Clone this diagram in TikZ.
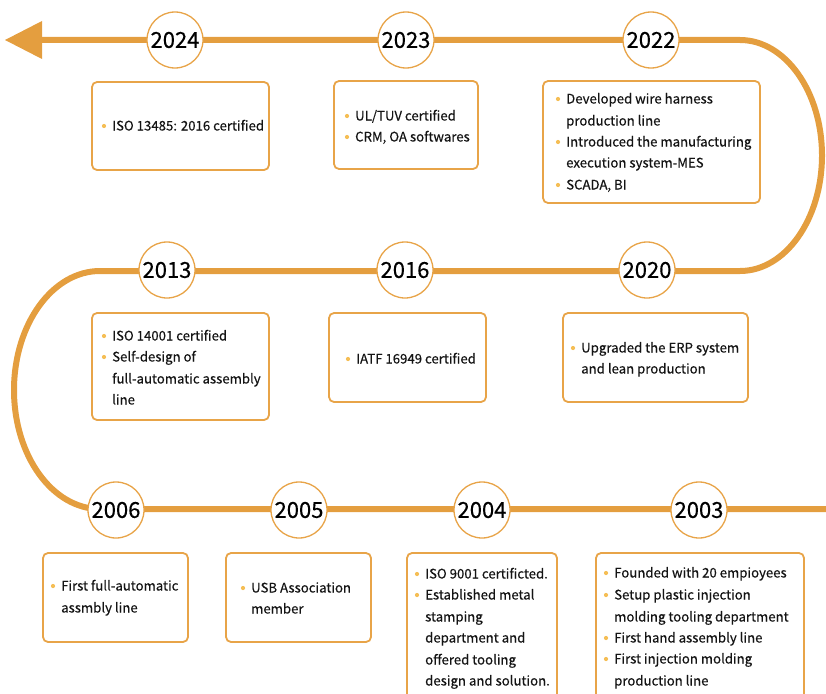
\documentclass[tikz,border=0pt]{standalone}
\usepackage{fontspec}
\setmainfont{Noto Sans CJK SC}
\newfontfamily\txtfont[FakeBold=0.35]{Noto Sans CJK SC}
\definecolor{lineorange}{RGB}{228,158,63}
\definecolor{boxorange}{RGB}{232,164,72}
\definecolor{bulc}{RGB}{245,190,85}
\definecolor{txtc}{RGB}{20,20,20}
\tikzset{
  tl/.style={draw=lineorange, line width=6pt},
  yr/.style={circle, draw=boxorange, line width=1.3pt, fill=white, minimum size=56pt, inner sep=0pt, font=\txtfont\fontsize{22}{22}\selectfont, text=black},
  evbox/.style={draw=boxorange, line width=1.8pt, rounded corners=5pt, fill=white},
  txt/.style={anchor=west, inner sep=0pt, text height=9pt, text depth=0pt, font=\txtfont\fontsize{13.2}{14}\selectfont, text=txtc},
}
\newcommand\itm[3]{\fill[bulc] (#1-8,#2) circle (2.1pt); \node[txt] at (#1,#2) {#3};}
\newcommand\cnt[3]{\node[txt] at (#1,#2) {#3};}
\begin{document}
\begin{tikzpicture}[x=1pt,y=-1pt]
\useasboundingbox (0,0) rectangle (826,693);
\clip (0,0) rectangle (826,693);
% timeline
\coordinate (tip) at (5,40);
\coordinate (ab) at (40,40);
\coordinate (r1) at (740,40);
\coordinate (l1) at (100,271);
\coordinate (rend) at (830,509);
\draw[tl] (ab) -- (r1) arc[start angle=90, end angle=-90, x radius=82pt, y radius=115.5pt] -- (l1)
  arc[start angle=90, end angle=270, x radius=86pt, y radius=119pt] -- (rend);
\fill[lineorange] (tip) -- (42,21) -- (42,59) -- cycle;
% year circles
\node[yr] (y2024) at (175,40) {2024};
\node[yr] (y2023) at (406,40) {2023};
\node[yr] (y2022) at (651,40) {2022};
\node[yr] (y2013) at (167,270) {2013};
\node[yr] (y2016) at (405,270) {2016};
\node[yr] (y2020) at (647,270) {2020};
\node[yr] (y2006) at (116,510) {2006};
\node[yr] (y2005) at (299,510) {2005};
\node[yr] (y2004) at (482,510) {2004};
\node[yr] (y2003) at (699,510) {2003};
% boxes
\draw[evbox] (92,82) rectangle (269,170);
\draw[evbox] (334,81) rectangle (478,169);
\draw[evbox] (543,81) rectangle (760,203);
\draw[evbox] (92,313) rectangle (269,420);
\draw[evbox] (329,313) rectangle (486,402);
\draw[evbox] (563,313) rectangle (748,402);
\draw[evbox] (43,553) rectangle (188,642);
\draw[evbox] (226,553) rectangle (371,642);
\draw[evbox] (407,553) rectangle (557,720);
\draw[evbox] (596,553) rectangle (804,720);
% texts
\itm{112}{126}{ISO 13485: 2016 certified}
\itm{355}{116}{UL/TUV certified}
\itm{355}{137}{CRM, OA softwares}
\itm{566}{99}{Developed wire harness}
\cnt{566}{121}{production line}
\itm{566}{142}{Introduced the manufacturing}
\cnt{566}{163}{execution system-MES}
\itm{566}{185}{SCADA, BI}
\itm{112}{336}{ISO 14001 certified}
\itm{112}{357}{Self-design of}
\cnt{112}{379}{full-automatic assembly}
\cnt{112}{400}{line}
\itm{356}{359}{IATF 16949 certified}
\itm{581}{348}{Upgraded the ERP system}
\cnt{581}{369}{and lean production}
\itm{61}{586}{First full-automatic}
\cnt{61}{608}{assmbly line}
\itm{251}{588}{USB Association}
\cnt{251}{609}{member}
\itm{425}{574}{ISO 9001 certificted.}
\itm{425}{595}{Established metal}
\cnt{425}{617}{stamping}
\cnt{425}{638}{department and}
\cnt{425}{660}{offered tooling}
\cnt{425}{681}{design and solution.}
\itm{614}{573}{Founded with 20 empioyees}
\itm{614}{595}{Setup plastic injection}
\cnt{614}{617}{molding tooling department}
\itm{614}{638}{First hand assembly line}
\itm{614}{659}{First injection molding}
\cnt{614}{681}{production line}
\end{tikzpicture}
\end{document}
